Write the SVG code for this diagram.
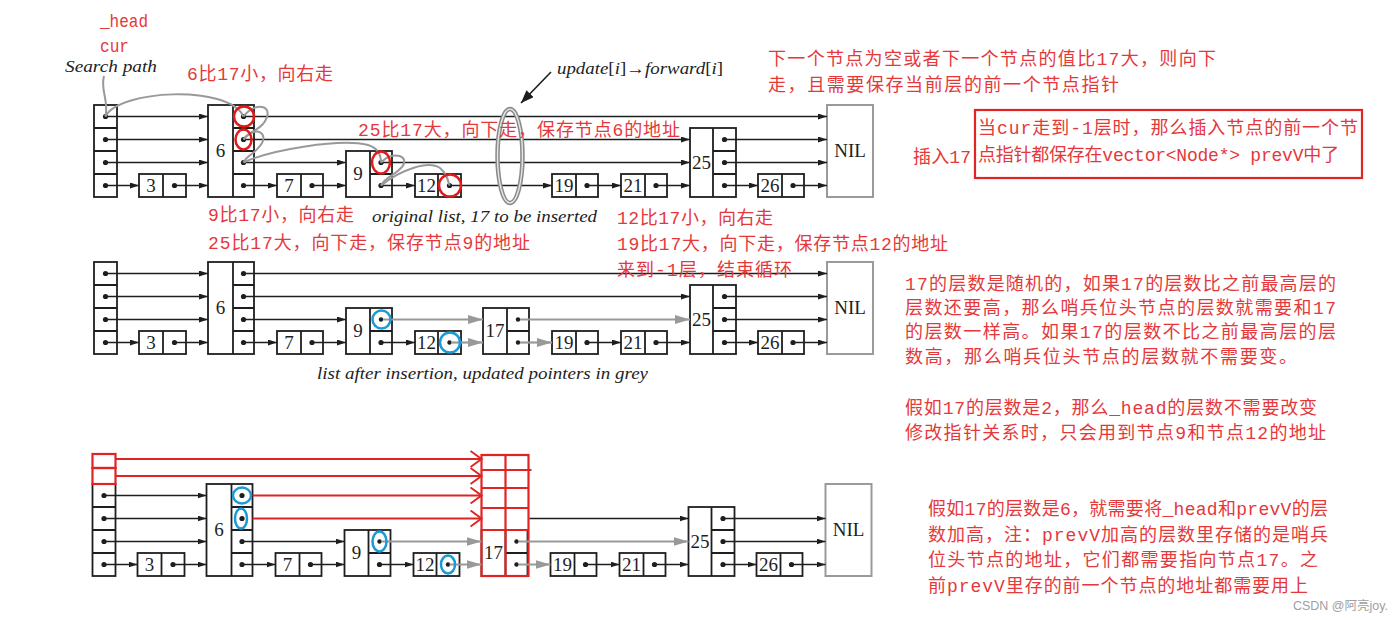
<svg xmlns="http://www.w3.org/2000/svg" width="1400" height="620" viewBox="0 0 1400 620">
<style>
.box{fill:#fff;stroke:#1e1e1e;stroke-width:1.8}
.div{fill:none;stroke:#1e1e1e;stroke-width:1.8}
.nil{fill:#fff;stroke:#9a9a9a;stroke-width:2}
.num{font-family:"Liberation Serif",serif;font-size:19px;fill:#1e1e1e;text-anchor:middle}
.dot{fill:#1e1e1e}
.ln{stroke:#1e1e1e;stroke-width:1.5;fill:none;marker-end:url(#ah)}
.gl{stroke:#999;stroke-width:2.2;fill:none;marker-end:url(#gh)}
.rl{stroke:#e02424;stroke-width:2.2;fill:none;marker-end:url(#rh)}
.rbox{fill:none;stroke:#e02424;stroke-width:2.2}
.rc{fill:none;stroke:#e01a1a;stroke-width:2.5}
.bc{fill:none;stroke:#1a9ad8;stroke-width:2.5}
.sp{fill:none;stroke:#999;stroke-width:2}
.rt{font-family:"Liberation Mono","Noto Sans CJK SC",monospace;font-size:18px;fill:#e5383b}
.cap{font-family:"Liberation Serif",serif;font-style:italic;font-size:17px;fill:#222}
</style>
<defs>
<marker id="ah" markerWidth="10" markerHeight="6" refX="9" refY="3" orient="auto" markerUnits="userSpaceOnUse"><path d="M0,0 L9,3 L0,6 Z" fill="#1e1e1e"/></marker>
<marker id="gh" markerWidth="16" markerHeight="10" refX="15" refY="5" orient="auto" markerUnits="userSpaceOnUse"><path d="M0,0.5 L15,5 L0,9.5 Z" fill="#999"/></marker>
<marker id="rh" markerWidth="14" markerHeight="18" refX="12" refY="9" orient="auto" markerUnits="userSpaceOnUse"><path d="M1,1 L12,9 L1,17" fill="none" stroke="#e02424" stroke-width="2"/></marker>
<marker id="bh" markerWidth="14" markerHeight="10" refX="13" refY="5" orient="auto" markerUnits="userSpaceOnUse"><path d="M0,0 L13,5 L0,10 Z" fill="#1e1e1e"/></marker>
</defs>

<!-- ============ LIST 1: original ============ -->
<g id="list1">
 <g id="l1-head"><rect class="box" x="94" y="105" width="23" height="92"/><path class="div" d="M94,128H117M94,151H117M94,174H117"/>
  <circle class="dot" cx="105.5" cy="116.5" r="2.6"/><circle class="dot" cx="105.5" cy="139.5" r="2.6"/><circle class="dot" cx="105.5" cy="162.5" r="2.6"/><circle class="dot" cx="105.5" cy="185.5" r="2.6"/></g>
 <g id="l1-n3"><rect class="box" x="139" y="174" width="47" height="23"/><path class="div" d="M163,174V197"/><text class="num" x="151" y="192">3</text><circle class="dot" cx="174.5" cy="185.5" r="2.6"/></g>
 <g id="l1-n6"><rect class="box" x="208" y="105" width="46" height="92"/><path class="div" d="M233,105V197M233,128H254M233,151H254M233,174H254"/><text class="num" x="220.5" y="157">6</text>
  <circle class="dot" cx="243.5" cy="116.5" r="2.6"/><circle class="dot" cx="243.5" cy="139.5" r="2.6"/><circle class="dot" cx="243.5" cy="162.5" r="2.6"/><circle class="dot" cx="243.5" cy="185.5" r="2.6"/></g>
 <g id="l1-n7"><rect class="box" x="277" y="174" width="46" height="23"/><path class="div" d="M301,174V197"/><text class="num" x="289" y="192">7</text><circle class="dot" cx="312" cy="185.5" r="2.6"/></g>
 <g id="l1-n9"><rect class="box" x="346" y="151" width="46" height="46"/><path class="div" d="M370,151V197M370,174H392"/><text class="num" x="358" y="180">9</text><circle class="dot" cx="381" cy="162.5" r="2.6"/><circle class="dot" cx="381" cy="185.5" r="2.6"/></g>
 <g id="l1-n12"><rect class="box" x="415" y="174" width="46" height="23"/><path class="div" d="M438,174V197"/><text class="num" x="426.5" y="192">12</text><circle class="dot" cx="449.5" cy="185.5" r="2.6"/></g>
 <g id="l1-n19"><rect class="box" x="552" y="174" width="46" height="23"/><path class="div" d="M576,174V197"/><text class="num" x="564" y="192">19</text><circle class="dot" cx="587" cy="185.5" r="2.6"/></g>
 <g id="l1-n21"><rect class="box" x="621" y="174" width="46" height="23"/><path class="div" d="M645,174V197"/><text class="num" x="633" y="192">21</text><circle class="dot" cx="656" cy="185.5" r="2.6"/></g>
 <g id="l1-n25"><rect class="box" x="690" y="128" width="46" height="69"/><path class="div" d="M713,128V197M713,151H736M713,174H736"/><text class="num" x="701.5" y="169">25</text>
  <circle class="dot" cx="724.5" cy="139.5" r="2.6"/><circle class="dot" cx="724.5" cy="162.5" r="2.6"/><circle class="dot" cx="724.5" cy="185.5" r="2.6"/></g>
 <g id="l1-n26"><rect class="box" x="758" y="174" width="46" height="23"/><path class="div" d="M782,174V197"/><text class="num" x="770" y="192">26</text><circle class="dot" cx="793" cy="185.5" r="2.6"/></g>
 <g id="l1-nil"><rect class="nil" x="827" y="105" width="46" height="92"/><text class="num" x="850" y="157">NIL</text></g>
 <g id="l1-connectors">
  <line class="ln" x1="105.5" y1="116.5" x2="208" y2="116.5"/><line class="ln" x1="243.5" y1="116.5" x2="827" y2="116.5"/>
  <line class="ln" x1="105.5" y1="139.5" x2="208" y2="139.5"/><line class="ln" x1="243.5" y1="139.5" x2="690" y2="139.5"/><line class="ln" x1="724.5" y1="139.5" x2="827" y2="139.5"/>
  <line class="ln" x1="105.5" y1="162.5" x2="208" y2="162.5"/><line class="ln" x1="243.5" y1="162.5" x2="346" y2="162.5"/><line class="ln" x1="381" y1="162.5" x2="690" y2="162.5"/><line class="ln" x1="724.5" y1="162.5" x2="827" y2="162.5"/>
  <line class="ln" x1="105.5" y1="185.5" x2="139" y2="185.5"/><line class="ln" x1="174.5" y1="185.5" x2="208" y2="185.5"/><line class="ln" x1="243.5" y1="185.5" x2="277" y2="185.5"/><line class="ln" x1="312" y1="185.5" x2="346" y2="185.5"/><line class="ln" x1="381" y1="185.5" x2="415" y2="185.5"/><line class="ln" x1="449.5" y1="185.5" x2="552" y2="185.5"/><line class="ln" x1="587" y1="185.5" x2="621" y2="185.5"/><line class="ln" x1="656" y1="185.5" x2="690" y2="185.5"/><line class="ln" x1="724.5" y1="185.5" x2="758" y2="185.5"/><line class="ln" x1="793" y1="185.5" x2="827" y2="185.5"/>
 </g>
 <g id="l1-search-path">
  <path class="sp" d="M104,76 C100,90 109,100 105.5,116.5"/>
  <path class="sp" d="M105.5,116.5 C118,90 228,84 243.5,116.5"/>
  <path class="sp" d="M243.5,116.5 C256,100 277,106 263,124 C256,132 248,132 243.5,139.5"/>
  <path class="sp" d="M243.5,139.5 C256,124 271,134 259,147 C253,155 247,155 243.5,162.5"/>
  <path class="sp" d="M243.5,162.5 C270,150 340,138 368,145 C378,148 381,155 381,162.5"/>
  <path class="sp" d="M381,162.5 C393,149 412,157 401,168 C394,176 386,176 381,185.5"/>
  <path class="sp" d="M381,185.5 C400,170 428,160 440,168 C447,174 448,180 449.5,185.5"/>
 </g>
 <g id="l1-marks">
  <circle class="rc" cx="244" cy="116.5" r="10"/>
  <ellipse class="rc" cx="243.5" cy="139.5" rx="8" ry="10"/>
  <ellipse class="rc" cx="381" cy="162.5" rx="9" ry="11"/>
  <circle class="rc" cx="450" cy="185.5" r="11"/>
  <ellipse cx="510" cy="156" rx="12.5" ry="47" fill="none" stroke="#8a8a8a" stroke-width="4.5"/>
  <ellipse cx="510" cy="156" rx="12.5" ry="47" fill="none" stroke="#e6e6e6" stroke-width="1.4"/>
  <line x1="551" y1="72" x2="521" y2="103" stroke="#1e1e1e" stroke-width="1.6" marker-end="url(#bh)"/>
 </g>
</g>

<!-- ============ LIST 2: after insertion ============ -->
<g id="list2" transform="translate(0,157)">
 <g id="l2-head"><rect class="box" x="94" y="105" width="23" height="92"/><path class="div" d="M94,128H117M94,151H117M94,174H117"/>
  <circle class="dot" cx="105.5" cy="116.5" r="2.6"/><circle class="dot" cx="105.5" cy="139.5" r="2.6"/><circle class="dot" cx="105.5" cy="162.5" r="2.6"/><circle class="dot" cx="105.5" cy="185.5" r="2.6"/></g>
 <g id="l2-n3"><rect class="box" x="139" y="174" width="47" height="23"/><path class="div" d="M163,174V197"/><text class="num" x="151" y="192">3</text><circle class="dot" cx="174.5" cy="185.5" r="2.6"/></g>
 <g id="l2-n6"><rect class="box" x="208" y="105" width="46" height="92"/><path class="div" d="M233,105V197M233,128H254M233,151H254M233,174H254"/><text class="num" x="220.5" y="157">6</text>
  <circle class="dot" cx="243.5" cy="116.5" r="2.6"/><circle class="dot" cx="243.5" cy="139.5" r="2.6"/><circle class="dot" cx="243.5" cy="162.5" r="2.6"/><circle class="dot" cx="243.5" cy="185.5" r="2.6"/></g>
 <g id="l2-n7"><rect class="box" x="277" y="174" width="46" height="23"/><path class="div" d="M301,174V197"/><text class="num" x="289" y="192">7</text><circle class="dot" cx="312" cy="185.5" r="2.6"/></g>
 <g id="l2-n9"><rect class="box" x="346" y="151" width="46" height="46"/><path class="div" d="M370,151V197M370,174H392"/><text class="num" x="358" y="180">9</text><circle class="dot" cx="381" cy="162.5" r="2.2"/><circle class="dot" cx="381" cy="185.5" r="2.6"/></g>
 <g id="l2-n12"><rect class="box" x="415" y="174" width="46" height="23"/><path class="div" d="M438,174V197"/><text class="num" x="426.5" y="192">12</text><circle class="dot" cx="449.5" cy="185.5" r="2.2"/></g>
 <g id="l2-n17"><rect class="box" x="483" y="151" width="46" height="46"/><path class="div" d="M507,151V197M507,174H529"/><text class="num" x="495" y="180">17</text><circle class="dot" cx="518" cy="162.5" r="2.2"/><circle class="dot" cx="518" cy="185.5" r="2.2"/></g>
 <g id="l2-n19"><rect class="box" x="552" y="174" width="46" height="23"/><path class="div" d="M576,174V197"/><text class="num" x="564" y="192">19</text><circle class="dot" cx="587" cy="185.5" r="2.6"/></g>
 <g id="l2-n21"><rect class="box" x="621" y="174" width="46" height="23"/><path class="div" d="M645,174V197"/><text class="num" x="633" y="192">21</text><circle class="dot" cx="656" cy="185.5" r="2.6"/></g>
 <g id="l2-n25"><rect class="box" x="690" y="128" width="46" height="69"/><path class="div" d="M713,128V197M713,151H736M713,174H736"/><text class="num" x="701.5" y="169">25</text>
  <circle class="dot" cx="724.5" cy="139.5" r="2.6"/><circle class="dot" cx="724.5" cy="162.5" r="2.6"/><circle class="dot" cx="724.5" cy="185.5" r="2.6"/></g>
 <g id="l2-n26"><rect class="box" x="758" y="174" width="46" height="23"/><path class="div" d="M782,174V197"/><text class="num" x="770" y="192">26</text><circle class="dot" cx="793" cy="185.5" r="2.6"/></g>
 <g id="l2-nil"><rect class="nil" x="827" y="105" width="46" height="92"/><text class="num" x="850" y="157">NIL</text></g>
 <g id="l2-connectors">
  <line class="ln" x1="105.5" y1="116.5" x2="208" y2="116.5"/><line class="ln" x1="243.5" y1="116.5" x2="827" y2="116.5"/>
  <line class="ln" x1="105.5" y1="139.5" x2="208" y2="139.5"/><line class="ln" x1="243.5" y1="139.5" x2="690" y2="139.5"/><line class="ln" x1="724.5" y1="139.5" x2="827" y2="139.5"/>
  <line class="ln" x1="105.5" y1="162.5" x2="208" y2="162.5"/><line class="ln" x1="243.5" y1="162.5" x2="346" y2="162.5"/><line class="gl" x1="383" y1="162.5" x2="483" y2="162.5"/><line class="gl" x1="520" y1="162.5" x2="690" y2="162.5"/><line class="ln" x1="724.5" y1="162.5" x2="827" y2="162.5"/>
  <line class="ln" x1="105.5" y1="185.5" x2="139" y2="185.5"/><line class="ln" x1="174.5" y1="185.5" x2="208" y2="185.5"/><line class="ln" x1="243.5" y1="185.5" x2="277" y2="185.5"/><line class="ln" x1="312" y1="185.5" x2="346" y2="185.5"/><line class="ln" x1="381" y1="185.5" x2="415" y2="185.5"/><line class="gl" x1="451" y1="185.5" x2="483" y2="185.5"/><line class="gl" x1="520" y1="185.5" x2="552" y2="185.5"/><line class="ln" x1="587" y1="185.5" x2="621" y2="185.5"/><line class="ln" x1="656" y1="185.5" x2="690" y2="185.5"/><line class="ln" x1="724.5" y1="185.5" x2="758" y2="185.5"/><line class="ln" x1="793" y1="185.5" x2="827" y2="185.5"/>
 </g>
 <g id="l2-marks">
  <circle class="bc" cx="381.5" cy="162.5" r="9"/>
  <circle class="bc" cx="450" cy="185.5" r="10"/>
 </g>
</g>

<!-- ============ LIST 3: raised level ============ -->
<g id="list3" transform="translate(-1.5,379)">
 <g id="l3-head"><rect class="box" x="94" y="105" width="23" height="92"/><path class="div" d="M94,128H117M94,151H117M94,174H117"/>
  <circle class="dot" cx="105.5" cy="116.5" r="2.6"/><circle class="dot" cx="105.5" cy="139.5" r="2.6"/><circle class="dot" cx="105.5" cy="162.5" r="2.6"/><circle class="dot" cx="105.5" cy="185.5" r="2.6"/>
  <rect class="rbox" x="94" y="75" width="23" height="14"/><rect class="rbox" x="94" y="89" width="23" height="16"/></g>
 <g id="l3-n3"><rect class="box" x="139" y="174" width="47" height="23"/><path class="div" d="M163,174V197"/><text class="num" x="151" y="192">3</text><circle class="dot" cx="174.5" cy="185.5" r="2.6"/></g>
 <g id="l3-n6"><rect class="box" x="208" y="105" width="46" height="92"/><path class="div" d="M233,105V197M233,128H254M233,151H254M233,174H254"/><text class="num" x="220.5" y="157">6</text>
  <circle class="dot" cx="243.5" cy="116.5" r="2.6"/><circle class="dot" cx="243.5" cy="139.5" r="2.6"/><circle class="dot" cx="243.5" cy="162.5" r="2.6"/><circle class="dot" cx="243.5" cy="185.5" r="2.6"/></g>
 <g id="l3-n7"><rect class="box" x="277" y="174" width="46" height="23"/><path class="div" d="M301,174V197"/><text class="num" x="289" y="192">7</text><circle class="dot" cx="312" cy="185.5" r="2.6"/></g>
 <g id="l3-n9"><rect class="box" x="346" y="151" width="46" height="46"/><path class="div" d="M370,151V197M370,174H392"/><text class="num" x="358" y="180">9</text><circle class="dot" cx="381" cy="162.5" r="2.2"/><circle class="dot" cx="381" cy="185.5" r="2.6"/></g>
 <g id="l3-n12"><rect class="box" x="415" y="174" width="46" height="23"/><path class="div" d="M438,174V197"/><text class="num" x="426.5" y="192">12</text><circle class="dot" cx="449.5" cy="185.5" r="2.2"/></g>
 <g id="l3-n17"><rect class="box" x="483" y="151" width="46" height="46"/><path class="div" d="M507,151V197M507,174H529"/><text class="num" x="495" y="180">17</text><circle class="dot" cx="518" cy="162.5" r="2.2"/><circle class="dot" cx="518" cy="185.5" r="2.2"/>
  <rect class="rbox" x="483" y="76" width="47" height="121"/><path class="rbox" d="M507,76V197M483,91H533M483,109H530M483,129H530M483,151H530"/></g>
 <g id="l3-n19"><rect class="box" x="552" y="174" width="46" height="23"/><path class="div" d="M576,174V197"/><text class="num" x="564" y="192">19</text><circle class="dot" cx="587" cy="185.5" r="2.6"/></g>
 <g id="l3-n21"><rect class="box" x="621" y="174" width="46" height="23"/><path class="div" d="M645,174V197"/><text class="num" x="633" y="192">21</text><circle class="dot" cx="656" cy="185.5" r="2.6"/></g>
 <g id="l3-n25"><rect class="box" x="690" y="128" width="46" height="69"/><path class="div" d="M713,128V197M713,151H736M713,174H736"/><text class="num" x="701.5" y="169">25</text>
  <circle class="dot" cx="724.5" cy="139.5" r="2.6"/><circle class="dot" cx="724.5" cy="162.5" r="2.6"/><circle class="dot" cx="724.5" cy="185.5" r="2.6"/></g>
 <g id="l3-n26"><rect class="box" x="758" y="174" width="46" height="23"/><path class="div" d="M782,174V197"/><text class="num" x="770" y="192">26</text><circle class="dot" cx="793" cy="185.5" r="2.6"/></g>
 <g id="l3-nil"><rect class="nil" x="827" y="105" width="46" height="92"/><text class="num" x="850" y="157">NIL</text></g>
 <g id="l3-connectors">
  <line class="rl" x1="117" y1="80" x2="483" y2="80"/>
  <line class="rl" x1="117" y1="97" x2="483" y2="97"/>
  <line class="ln" x1="105.5" y1="116.5" x2="208" y2="116.5"/><line class="rl" x1="254" y1="116.5" x2="483" y2="116.5"/>
  <line class="ln" x1="105.5" y1="139.5" x2="208" y2="139.5"/><line class="rl" x1="254" y1="139.5" x2="483" y2="139.5"/><line class="ln" x1="531" y1="139.5" x2="690" y2="139.5"/><line class="ln" x1="724.5" y1="139.5" x2="827" y2="139.5"/>
  <line class="ln" x1="105.5" y1="162.5" x2="208" y2="162.5"/><line class="ln" x1="243.5" y1="162.5" x2="346" y2="162.5"/><line class="gl" x1="383" y1="162.5" x2="483" y2="162.5"/><line class="gl" x1="520" y1="162.5" x2="690" y2="162.5"/><line class="ln" x1="724.5" y1="162.5" x2="827" y2="162.5"/>
  <line class="ln" x1="105.5" y1="185.5" x2="139" y2="185.5"/><line class="ln" x1="174.5" y1="185.5" x2="208" y2="185.5"/><line class="ln" x1="243.5" y1="185.5" x2="277" y2="185.5"/><line class="ln" x1="312" y1="185.5" x2="346" y2="185.5"/><line class="ln" x1="381" y1="185.5" x2="415" y2="185.5"/><line class="gl" x1="451" y1="185.5" x2="483" y2="185.5"/><line class="gl" x1="520" y1="185.5" x2="552" y2="185.5"/><line class="ln" x1="587" y1="185.5" x2="621" y2="185.5"/><line class="ln" x1="656" y1="185.5" x2="690" y2="185.5"/><line class="ln" x1="724.5" y1="185.5" x2="758" y2="185.5"/><line class="ln" x1="793" y1="185.5" x2="827" y2="185.5"/>
 </g>
 <g id="l3-marks">
  <ellipse class="bc" cx="243.5" cy="116.5" rx="9" ry="8"/>
  <ellipse class="bc" cx="242.5" cy="139.5" rx="6" ry="10"/>
  <ellipse class="bc" cx="381" cy="162.5" rx="7" ry="10"/>
  <ellipse class="bc" cx="449.5" cy="185.5" rx="7" ry="9"/>
 </g>
</g>

<!-- ============ captions ============ -->
<g id="captions">
 <text class="cap" x="65" y="72" textLength="92" lengthAdjust="spacingAndGlyphs">Search path</text>
 <text class="cap" x="557" y="74" textLength="166" lengthAdjust="spacingAndGlyphs">update<tspan font-style="normal">[</tspan>i<tspan font-style="normal">]→</tspan>forward<tspan font-style="normal">[</tspan>i<tspan font-style="normal">]</tspan></text>
 <text class="cap" x="372" y="222" textLength="225" lengthAdjust="spacingAndGlyphs">original list, 17 to be inserted</text>
 <text class="cap" x="317" y="379" textLength="331" lengthAdjust="spacingAndGlyphs">list after insertion, updated pointers in grey</text>
</g>

<!-- ============ annotations ============ -->
<g id="annotations">
 <text class="rt" x="100" y="27" textLength="48" lengthAdjust="spacingAndGlyphs">_head</text>
 <text class="rt" x="100" y="52" textLength="29" lengthAdjust="spacingAndGlyphs">cur</text>
 <text class="rt" x="187" y="80" textLength="146" lengthAdjust="spacing">6比17小，向右走</text>
 <text class="rt" x="358" y="136" textLength="322" lengthAdjust="spacing">25比17大，向下走，保存节点6的地址</text>
 <text class="rt" x="208" y="221" textLength="146" lengthAdjust="spacing">9比17小，向右走</text>
 <text class="rt" x="208" y="249" textLength="322" lengthAdjust="spacing">25比17大，向下走，保存节点9的地址</text>
 <text class="rt" x="617" y="224" textLength="156" lengthAdjust="spacing">12比17小，向右走</text>
 <text class="rt" x="617" y="250" textLength="331" lengthAdjust="spacing">19比17大，向下走，保存节点12的地址</text>
 <text class="rt" x="617" y="276" textLength="175" lengthAdjust="spacing">来到-1层，结束循环</text>
 <text class="rt" x="768" y="65" textLength="448" lengthAdjust="spacing">下一个节点为空或者下一个节点的值比17大，则向下</text>
 <text class="rt" x="768" y="91" textLength="351" lengthAdjust="spacing">走，且需要保存当前层的前一个节点指针</text>
 <text class="rt" x="913" y="163" textLength="58" lengthAdjust="spacing">插入17</text>
 <g id="note-box">
  <rect x="975" y="110" width="387" height="68" fill="none" stroke="#e02424" stroke-width="2.2"/>
  <text class="rt" x="978" y="134" textLength="380" lengthAdjust="spacing">当cur走到-1层时，那么插入节点的前一个节</text>
  <text class="rt" x="978" y="161" textLength="361" lengthAdjust="spacing">点指针都保存在vector&lt;Node*&gt; prevV中了</text>
 </g>
 <text class="rt" x="905" y="290" textLength="431" lengthAdjust="spacing">17的层数是随机的，如果17的层数比之前最高层的</text>
 <text class="rt" x="905" y="314" textLength="431" lengthAdjust="spacing">层数还要高，那么哨兵位头节点的层数就需要和17</text>
 <text class="rt" x="905" y="338" textLength="431" lengthAdjust="spacing">的层数一样高。如果17的层数不比之前最高层的层</text>
 <text class="rt" x="905" y="363" textLength="392" lengthAdjust="spacing">数高，那么哨兵位头节点的层数就不需要变。</text>
 <text class="rt" x="905" y="414" textLength="412" lengthAdjust="spacing">假如17的层数是2，那么_head的层数不需要改变</text>
 <text class="rt" x="905" y="439" textLength="421" lengthAdjust="spacing">修改指针关系时，只会用到节点9和节点12的地址</text>
 <text class="rt" x="928" y="515" textLength="400" lengthAdjust="spacing">假如17的层数是6，就需要将_head和prevV的层</text>
 <text class="rt" x="928" y="541" textLength="400" lengthAdjust="spacing">数加高，注：prevV加高的层数里存储的是哨兵</text>
 <text class="rt" x="928" y="566" textLength="390" lengthAdjust="spacing">位头节点的地址，它们都需要指向节点17。之</text>
 <text class="rt" x="928" y="592" textLength="380" lengthAdjust="spacing">前prevV里存的前一个节点的地址都需要用上</text>
 <text x="1293" y="610" font-family="'Liberation Sans','Noto Sans CJK SC',sans-serif" font-size="12.5" fill="#a0a0a0" textLength="95" lengthAdjust="spacingAndGlyphs">CSDN @阿亮joy.</text>
</g>
</svg>
